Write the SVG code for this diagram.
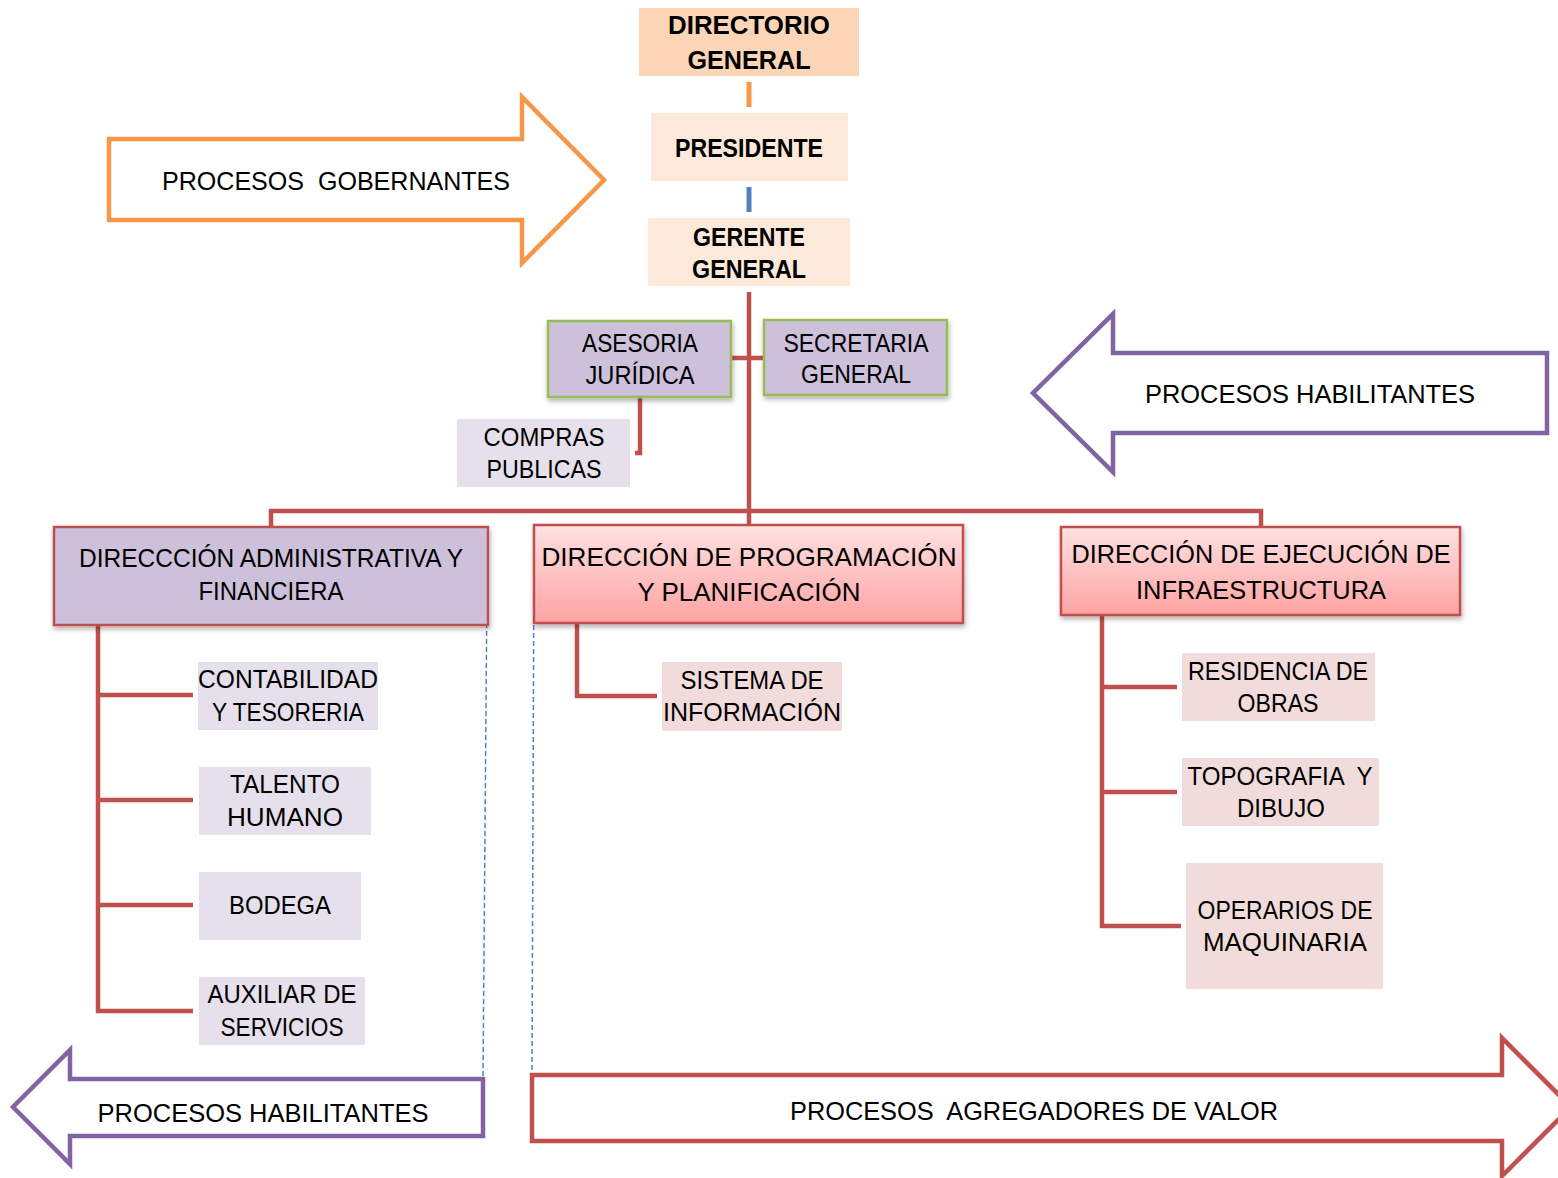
<svg xmlns="http://www.w3.org/2000/svg" width="1558" height="1178" viewBox="0 0 1558 1178">
<defs>
  <linearGradient id="gRed" x1="0" y1="0" x2="0" y2="1">
    <stop offset="0" stop-color="#FFE1E1"/>
    <stop offset="1" stop-color="#FFA3A3"/>
  </linearGradient>
  <filter id="sh" x="-10%" y="-10%" width="120%" height="130%">
    <feDropShadow dx="1" dy="3" stdDeviation="2.5" flood-color="#000" flood-opacity="0.3"/>
  </filter>
</defs>
<style>
  text{font-family:"Liberation Sans",Arial,sans-serif;font-size:26px;fill:#000;text-anchor:middle}
  .b{font-weight:bold}
  .pre{white-space:pre}
  .con{fill:none;stroke:#C0504D;stroke-width:4.5}
  .dash{fill:none;stroke:#4F81BD;stroke-width:1.5;stroke-dasharray:5 3}
  .lav{fill:#E5E0EC}
  .pink{fill:#F2DCDB}
  .mauve{fill:#CCC0DA;stroke:#9BBB59;stroke-width:2.5}
  .dir{stroke:#C0504D;stroke-width:2.5}
  .arr{fill:#fff;stroke-width:4.5;stroke-linejoin:miter}
</style>
<rect width="1558" height="1178" fill="#fff"/>

<!-- process arrows -->
<g id="arrow-gobernantes">
  <path class="arr" stroke="#F79646" d="M109,139 H522 V97 L604,180 L522,263 V220 H109 Z"/>
  <text class="pre" x="336" y="190" textLength="348" lengthAdjust="spacingAndGlyphs" xml:space="preserve">PROCESOS  GOBERNANTES</text>
</g>
<g id="arrow-habilitantes-right">
  <path class="arr" stroke="#8064A2" d="M1547,353 H1113 V314 L1033,393 L1113,472 V433 H1547 Z"/>
  <text x="1310" y="403" textLength="330" lengthAdjust="spacingAndGlyphs">PROCESOS HABILITANTES</text>
</g>
<g id="arrow-habilitantes-left">
  <path class="arr" stroke="#8064A2" d="M483,1079 H70 V1050 L13,1107 L70,1164 V1136 H483 Z"/>
  <text x="263" y="1122" textLength="331" lengthAdjust="spacingAndGlyphs">PROCESOS HABILITANTES</text>
</g>
<g id="arrow-agregadores">
  <path class="arr" stroke="#C0504D" stroke-width="5" d="M532,1075 H1502 V1038 L1571,1107 L1502,1176 V1141 H532 Z"/>
  <text class="pre" x="1034" y="1120" textLength="488" lengthAdjust="spacingAndGlyphs" xml:space="preserve">PROCESOS  AGREGADORES DE VALOR</text>
</g>

<!-- connectors -->
<g id="connectors">
  <line x1="749" y1="82" x2="749" y2="107" stroke="#F79646" stroke-width="5"/>
  <line x1="749" y1="187" x2="749" y2="212" stroke="#4F81BD" stroke-width="5"/>
  <line class="con" x1="749" y1="292" x2="749" y2="526"/>
  <line class="con" x1="731" y1="358" x2="764" y2="358"/>
  <path class="con" d="M640,397 V453 H635"/>
  <path class="con" d="M271,527 V511 H1261 V527"/>
  <path class="con" d="M98,625 V1011 H193 M98,695 H193 M98,800 H193 M98,905 H193"/>
  <path class="con" d="M577,623 V696 H657"/>
  <path class="con" d="M1102,615 V926 H1181 M1102,687 H1177 M1102,792 H1177"/>
  <line class="dash" x1="487" y1="583" x2="483" y2="1077"/>
  <line class="dash" x1="534" y1="545" x2="532" y2="1073"/>
</g>

<!-- nodes -->
<g id="directorio-general">
  <rect x="639" y="8" width="220" height="68" fill="#FBD5B5"/>
  <text class="b" x="749" y="34" font-size="27" textLength="162" lengthAdjust="spacingAndGlyphs">DIRECTORIO</text>
  <text class="b" x="749" y="69" font-size="27" textLength="123" lengthAdjust="spacingAndGlyphs">GENERAL</text>
</g>
<g id="presidente">
  <rect x="651" y="113" width="197" height="68" fill="#FDE9D9"/>
  <text class="b" x="749" y="157" textLength="148" lengthAdjust="spacingAndGlyphs">PRESIDENTE</text>
</g>
<g id="gerente-general">
  <rect x="648" y="218" width="202" height="68" fill="#FDE9D9"/>
  <text class="b" x="749" y="246" textLength="112" lengthAdjust="spacingAndGlyphs">GERENTE</text>
  <text class="b" x="749" y="278" textLength="114" lengthAdjust="spacingAndGlyphs">GENERAL</text>
</g>
<g id="asesoria-juridica">
  <rect class="mauve" x="548" y="321" width="183" height="76" filter="url(#sh)"/>
  <text x="640" y="352" textLength="116" lengthAdjust="spacingAndGlyphs">ASESORIA</text>
  <text x="640" y="384" textLength="109" lengthAdjust="spacingAndGlyphs">JURÍDICA</text>
</g>
<g id="secretaria-general">
  <rect class="mauve" x="764" y="320" width="183" height="75" filter="url(#sh)"/>
  <text x="856" y="352" textLength="145" lengthAdjust="spacingAndGlyphs">SECRETARIA</text>
  <text x="856" y="383" textLength="110" lengthAdjust="spacingAndGlyphs">GENERAL</text>
</g>
<g id="compras-publicas">
  <rect class="lav" x="457" y="419" width="173" height="68"/>
  <text x="544" y="446" textLength="121" lengthAdjust="spacingAndGlyphs">COMPRAS</text>
  <text x="544" y="478" textLength="115" lengthAdjust="spacingAndGlyphs">PUBLICAS</text>
</g>
<g id="direccion-administrativa">
  <rect class="dir" x="54" y="527" width="434" height="98" fill="#CCC0DA" filter="url(#sh)"/>
  <text x="271" y="567" textLength="384" lengthAdjust="spacingAndGlyphs">DIRECCCIÓN ADMINISTRATIVA Y</text>
  <text x="271" y="600" textLength="145" lengthAdjust="spacingAndGlyphs">FINANCIERA</text>
</g>
<g id="direccion-programacion">
  <rect class="dir" x="534" y="525" width="429" height="98" fill="url(#gRed)" filter="url(#sh)"/>
  <text x="749" y="566" textLength="415" lengthAdjust="spacingAndGlyphs">DIRECCIÓN DE PROGRAMACIÓN</text>
  <text x="749" y="601" textLength="223" lengthAdjust="spacingAndGlyphs">Y PLANIFICACIÓN</text>
</g>
<g id="direccion-ejecucion">
  <rect class="dir" x="1061" y="527" width="399" height="88" fill="url(#gRed)" filter="url(#sh)"/>
  <text x="1261" y="563" textLength="379" lengthAdjust="spacingAndGlyphs">DIRECCIÓN DE EJECUCIÓN DE</text>
  <text x="1261" y="599" textLength="250" lengthAdjust="spacingAndGlyphs">INFRAESTRUCTURA</text>
</g>
<g id="contabilidad">
  <rect class="lav" x="198" y="662" width="180" height="68"/>
  <text x="288" y="688" textLength="180" lengthAdjust="spacingAndGlyphs">CONTABILIDAD</text>
  <text x="288" y="721" textLength="152" lengthAdjust="spacingAndGlyphs">Y TESORERIA</text>
</g>
<g id="talento-humano">
  <rect class="lav" x="199" y="767" width="172" height="68"/>
  <text x="285" y="793" textLength="110" lengthAdjust="spacingAndGlyphs">TALENTO</text>
  <text x="285" y="826" textLength="116" lengthAdjust="spacingAndGlyphs">HUMANO</text>
</g>
<g id="bodega">
  <rect class="lav" x="199" y="872" width="162" height="68"/>
  <text x="280" y="914" textLength="102" lengthAdjust="spacingAndGlyphs">BODEGA</text>
</g>
<g id="auxiliar-servicios">
  <rect class="lav" x="199" y="977" width="166" height="68"/>
  <text x="282" y="1003" textLength="149" lengthAdjust="spacingAndGlyphs">AUXILIAR DE</text>
  <text x="282" y="1036" textLength="123" lengthAdjust="spacingAndGlyphs">SERVICIOS</text>
</g>
<g id="sistema-informacion">
  <rect class="pink" x="662" y="662" width="180" height="69"/>
  <text x="752" y="689" textLength="143" lengthAdjust="spacingAndGlyphs">SISTEMA DE</text>
  <text x="752" y="721" textLength="178" lengthAdjust="spacingAndGlyphs">INFORMACIÓN</text>
</g>
<g id="residencia-obras">
  <rect class="pink" x="1182" y="653" width="193" height="68"/>
  <text x="1278" y="680" textLength="180" lengthAdjust="spacingAndGlyphs">RESIDENCIA DE</text>
  <text x="1278" y="712" textLength="81" lengthAdjust="spacingAndGlyphs">OBRAS</text>
</g>
<g id="topografia-dibujo">
  <rect class="pink" x="1182" y="758" width="197" height="68"/>
  <text class="pre" x="1280" y="785" textLength="185" lengthAdjust="spacingAndGlyphs" xml:space="preserve">TOPOGRAFIA  Y</text>
  <text x="1281" y="817" textLength="88" lengthAdjust="spacingAndGlyphs">DIBUJO</text>
</g>
<g id="operarios-maquinaria">
  <rect class="pink" x="1186" y="863" width="197" height="126"/>
  <text x="1285" y="919" textLength="175" lengthAdjust="spacingAndGlyphs">OPERARIOS DE</text>
  <text x="1285" y="951" textLength="164" lengthAdjust="spacingAndGlyphs">MAQUINARIA</text>
</g>
</svg>
